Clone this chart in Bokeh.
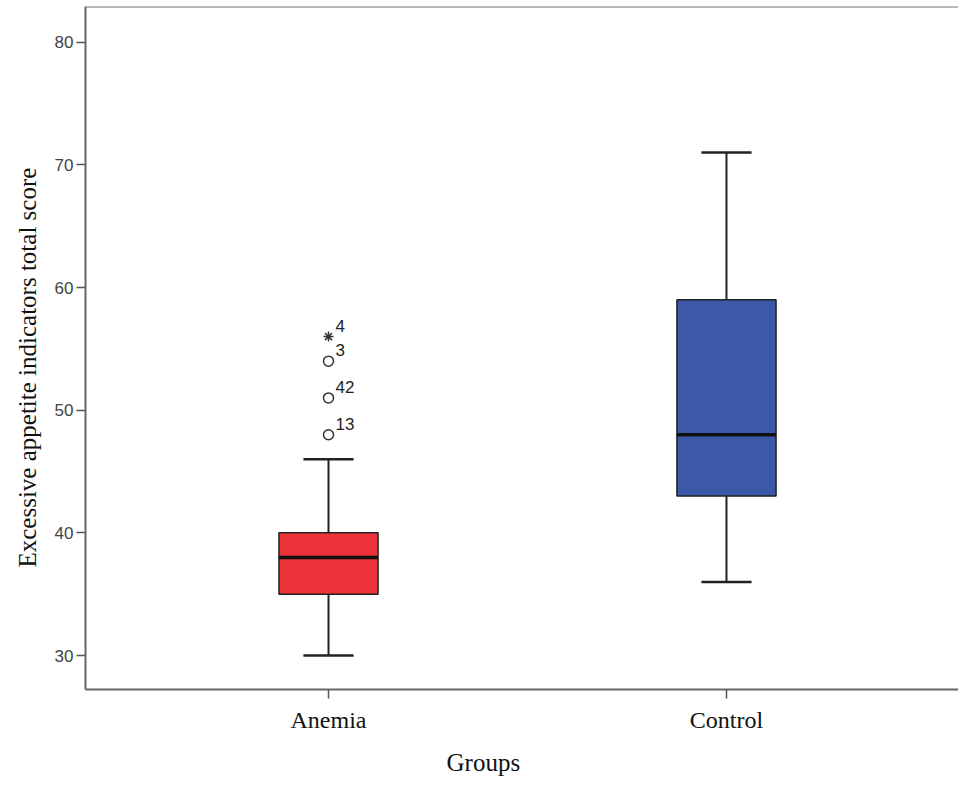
import pandas as pd
from bokeh.plotting import figure
from bokeh.models import ColumnDataSource, Range1d, FixedTicker, Span, Title
from bokeh.core.properties import value
from bokeh.embed import file_html
from bokeh.resources import INLINE

# ---- data ----
groups = ["Anemia", "Control"]
group_pos = [1, 2]
q1 = [35, 43]
median = [38, 48]
q3 = [40, 59]
whisker_low = [30, 36]
whisker_high = [46, 71]
box_colors = ["#EB3339", "#3C58A8"]

outlier_pos = [1, 1, 1, 1]
outlier_values = [48, 51, 54, 56]
outlier_ids = ["13", "42", "3", "4"]
outlier_kind = ["circle", "circle", "circle", "asterisk"]

y_ticks = [30, 40, 50, 60, 70, 80]

# ---- style constants ----
BOX_W = 0.249
CAP_W = 0.126

df = pd.DataFrame(dict(x=group_pos, name=groups, q1=q1, q2=median, q3=q3,
                       lo=whisker_low, hi=whisker_high, color=box_colors))
df["bl"] = df.x - BOX_W / 2
df["br"] = df.x + BOX_W / 2
df["cl"] = df.x - CAP_W / 2
df["cr"] = df.x + CAP_W / 2
src = ColumnDataSource(df)

out_src = ColumnDataSource(dict(x=outlier_pos, y=outlier_values,
                                label=outlier_ids, marker=outlier_kind))

Y0, Y1 = 27.23, 82.91
p = figure(width=958, height=787,
           x_range=Range1d(0.3894, 2.583), y_range=Range1d(Y0, Y1),
           output_backend="svg", toolbar_location=None,
           min_border_left=85, min_border_right=0,
           min_border_top=6, min_border_bottom=98)
p.grid.visible = False
p.outline_line_color = None
p.background_fill_color = "white"
p.border_fill_color = "white"

line_col = "#222222"
# whisker stems
p.segment(x0="x", y0="lo", x1="x", y1="q1", source=src, line_color=line_col, line_width=2)
p.segment(x0="x", y0="q3", x1="x", y1="hi", source=src, line_color=line_col, line_width=2)
# caps
p.segment(x0="cl", y0="lo", x1="cr", y1="lo", source=src, line_color=line_col, line_width=2.5)
p.segment(x0="cl", y0="hi", x1="cr", y1="hi", source=src, line_color=line_col, line_width=2.5)
# boxes
p.vbar(x="x", width=BOX_W, bottom="q1", top="q3", source=src,
       fill_color="color", line_color=line_col, line_width=1.5)
# medians
p.segment(x0="bl", y0="q2", x1="br", y1="q2", source=src, line_color="#111111", line_width=3.5)

# outliers
p.scatter(x="x", y="y", marker="marker", source=out_src, size=10,
          fill_color=None, line_color="#333333", line_width=1.5)
p.text(x="x", y="y", text="label", source=out_src, x_offset=7, y_offset=-5,
       text_align="left", text_baseline="bottom",
       text_font=value("Liberation Sans"), text_font_size="17px", text_color="#222222")

# top border
p.add_layout(Span(location=Y1, dimension="width", line_color="#777777", line_width=2))

# axes
p.yaxis.ticker = FixedTicker(ticks=y_ticks)
p.yaxis.minor_tick_line_color = None
p.yaxis.major_tick_in = 0
p.yaxis.major_tick_out = 9
p.yaxis.major_label_standoff = 3
p.yaxis.major_label_text_font = "Liberation Sans"
p.yaxis.major_label_text_font_size = "17px"
p.yaxis.major_label_text_color = "#444444"

p.xaxis.ticker = FixedTicker(ticks=group_pos)
p.xaxis.major_label_overrides = {pos: name for pos, name in zip(group_pos, groups)}
p.xaxis.minor_tick_line_color = None
p.xaxis.major_tick_in = 0
p.xaxis.major_tick_out = 9
p.xaxis.major_label_standoff = 8
p.xaxis.major_label_text_font = "Liberation Serif"
p.xaxis.major_label_text_font_size = "24px"
p.xaxis.major_label_text_color = "#111111"

for ax in (p.xaxis, p.yaxis):
    ax.axis_line_color = "#666666"
    ax.axis_line_width = 2
    ax.major_tick_line_color = "#555555"
    ax.major_tick_line_width = 1.5

# axis titles
p.add_layout(Title(text="Excessive appetite indicators total score", align="left",
                   offset=122, standoff=20, vertical_align="middle",
                   text_font="Liberation Serif", text_font_size="25px",
                   text_font_style="normal", text_color="#111111"), "left")
p.add_layout(Title(text="Groups", align="left", offset=361, standoff=23,
                   text_font="Liberation Serif", text_font_size="25px",
                   text_font_style="normal", text_color="#111111"), "below")

open("out.html", "w").write(file_html(p, INLINE))
